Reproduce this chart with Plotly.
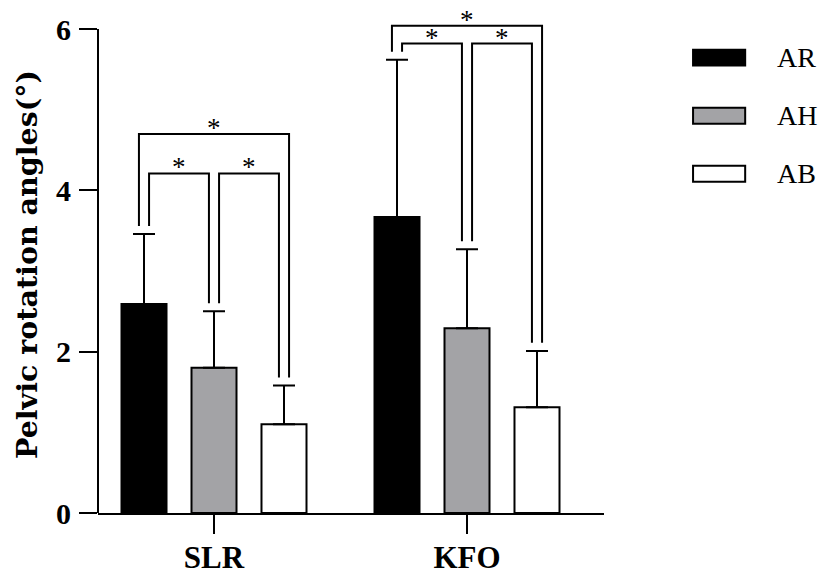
import plotly.graph_objects as go

# --------------------------------------------------
# Data
# --------------------------------------------------
tasks = ["SLR", "KFO"]
groups = ["AR", "AH", "AB"]
colors = ["#000000", "#a3a3a6", "#ffffff"]

mean_ar = [2.59, 3.67]
mean_ah = [1.80, 2.29]
mean_ab = [1.10, 1.31]

sd_ar = [0.87, 1.95]
sd_ah = [0.70, 0.98]
sd_ab = [0.48, 0.70]

# significance brackets: (task index, group a, group b, bracket top)
brackets = [
    (0, 0, 1, 4.21),
    (0, 1, 2, 4.21),
    (0, 0, 2, 4.70),
    (1, 0, 1, 5.82),
    (1, 1, 2, 5.82),
    (1, 0, 2, 6.04),
]

means = [mean_ar, mean_ah, mean_ab]
sds = [sd_ar, sd_ah, sd_ab]

FONT = "Liberation Serif"

# bar geometry (axis units, one unit per task)
BARGAP = 0.17
SLOT = (1 - BARGAP) / 3
LEG = 0.02      # horizontal offset of bracket legs from bar centre
GAP = 0.10      # vertical gap between error cap and bracket leg

task_pos = list(range(len(tasks)))


def BarCenter(task, grp):
    return task + (grp - 1) * SLOT


fig = go.Figure()

# --------------------------------------------------
# Bars with upward error bars
# --------------------------------------------------
for g in range(3):
    fig.add_trace(go.Bar(
        x=task_pos,
        y=means[g],
        name=groups[g],
        marker=dict(color=colors[g], line=dict(color="black", width=2)),
        error_y=dict(
            type="data",
            array=sds[g],
            arrayminus=[0, 0],
            symmetric=False,
            color="black",
            thickness=2,
            width=11
        ),
        showlegend=False
    ))

# --------------------------------------------------
# Significance brackets
# --------------------------------------------------
for task, a, b, top in brackets:
    xa = BarCenter(task, a)
    xb = BarCenter(task, b)
    if b - a == 2:
        xl, xr = xa - LEG, xb + LEG
    else:
        xl, xr = xa + LEG, xb - LEG
    ya = means[a][task] + sds[a][task] + GAP
    yb = means[b][task] + sds[b][task] + GAP
    fig.add_trace(go.Scatter(
        x=[xl, xl, xr, xr],
        y=[ya, top, top, yb],
        mode="lines",
        line=dict(color="black", width=2),
        showlegend=False,
        hoverinfo="skip"
    ))
    fig.add_annotation(
        x=(xl + xr) / 2,
        y=top,
        text="*",
        showarrow=False,
        yanchor="middle",
        yshift=6,
        font=dict(family=FONT, size=27, color="black")
    )

# y axis line only up to 6
fig.add_shape(
    type="line", xref="paper", yref="y",
    x0=0, x1=0, y0=0, y1=6,
    line=dict(color="black", width=2)
)

# --------------------------------------------------
# Legend drawn by hand (large swatches)
# --------------------------------------------------
legend_y = [0.918, 0.801, 0.684]
for g in range(3):
    fig.add_shape(
        type="rect", xref="paper", yref="paper",
        x0=1.176, x1=1.279,
        y0=legend_y[g] - 0.016, y1=legend_y[g] + 0.016,
        fillcolor=colors[g],
        line=dict(color="black", width=2)
    )
    fig.add_annotation(
        xref="paper", yref="paper",
        x=1.338, y=legend_y[g],
        xanchor="left", yanchor="middle",
        text=groups[g],
        showarrow=False,
        font=dict(family=FONT, size=28, color="black")
    )

# y axis title
fig.add_annotation(
    xref="paper", yref="paper",
    x=0, y=0.5, xshift=-71,
    xanchor="center", yanchor="middle",
    text="<b>Pelvic rotation angles(°)</b>",
    textangle=-90,
    showarrow=False,
    font=dict(family="DejaVu Serif", size=28.5, color="black")
)

# the page body adds an 8px offset, so the figure is 8px smaller
fig.update_layout(
    width=819,
    height=569,
    margin=dict(l=90, r=223, t=9, b=64),
    barmode="group",
    bargap=BARGAP,
    bargroupgap=0.357,
    plot_bgcolor="white",
    paper_bgcolor="white",
    font=dict(family=FONT, color="black")
)

fig.update_xaxes(
    range=[-0.4585, 1.5415],
    tickvals=task_pos,
    ticktext=tasks,
    showline=True, linecolor="black", linewidth=2,
    ticks="outside", ticklen=19, tickwidth=2, tickcolor="black",
    tickfont=dict(family=FONT, size=31, weight="bold"),
    ticklabelstandoff=-3,
    showgrid=False, zeroline=False, automargin=False
)

fig.update_yaxes(
    range=[0, 6.15],
    tickvals=[0, 2, 4, 6],
    showline=False,
    ticks="outside", ticklen=18, tickwidth=2, tickcolor="black",
    tickfont=dict(family=FONT, size=30, weight="bold"),
    ticklabelstandoff=2,
    showgrid=False, zeroline=False, automargin=False
)

fig.write_html("out.html")
